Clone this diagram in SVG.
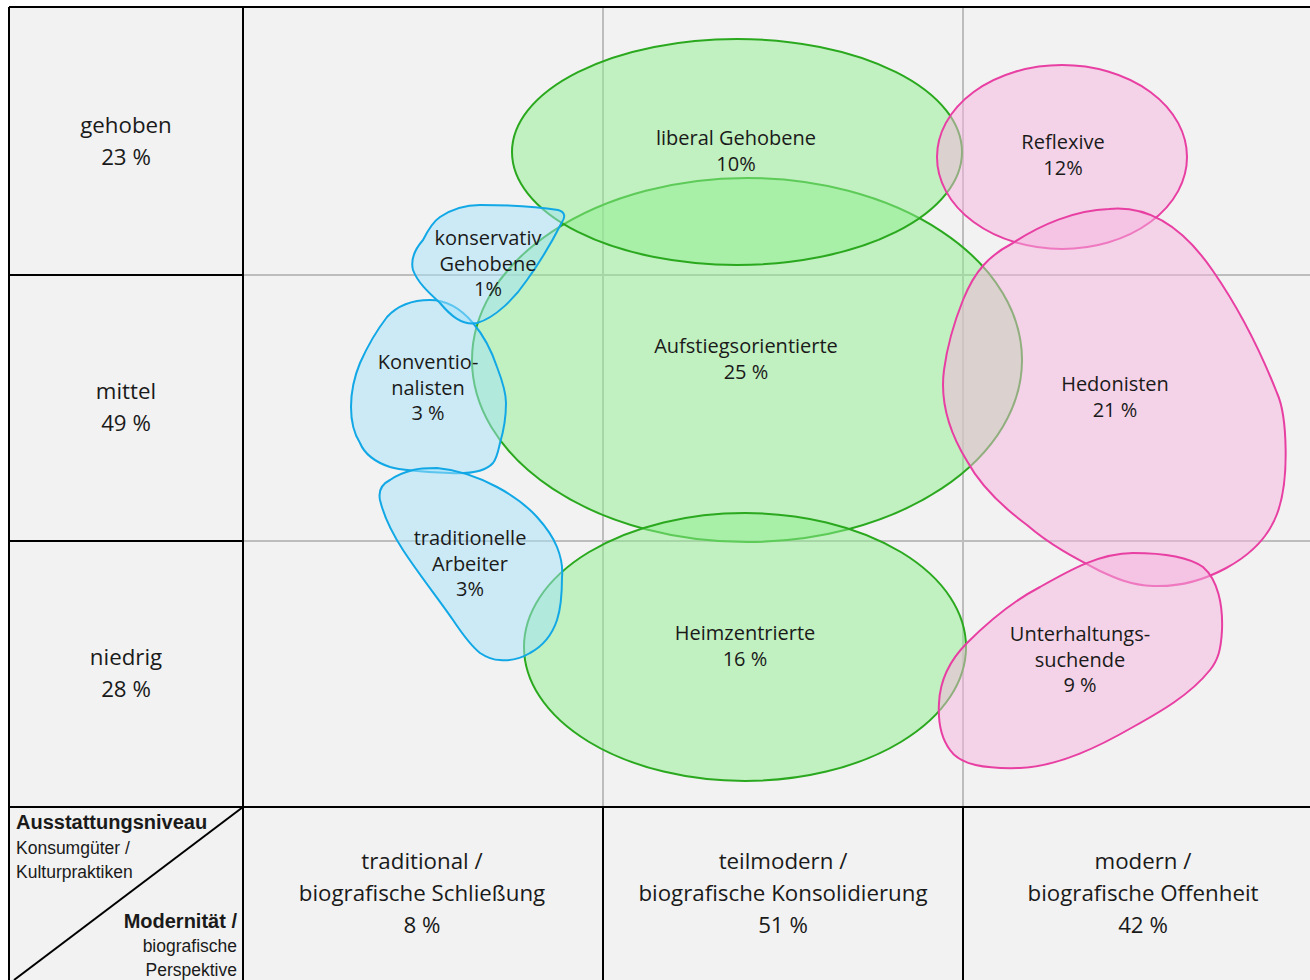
<svg xmlns="http://www.w3.org/2000/svg" width="1310" height="980" viewBox="0 0 1310 980">
<style>
.t{font-family:"Open Sans","Noto Sans",sans-serif;fill:#1a1a1a;text-anchor:middle}
.ax{font-size:22.3px}
.lb{font-size:20px}
.grid{stroke:#bdbdbd;stroke-width:2;fill:none}
.blk{stroke:#000;stroke-width:2;fill:none}
.g{fill:rgb(144,238,144);fill-opacity:0.5;stroke:#2aa81e;stroke-width:2}
.p{fill:rgb(246,180,222);fill-opacity:0.5;stroke:#e83fa3;stroke-width:2}
.b{fill:rgb(164,226,250);fill-opacity:0.5;stroke:#12a8e6;stroke-width:2}
.s{font-family:"Liberation Sans",Arial,sans-serif;fill:#1a1a1a}
.sb{font-size:20px;font-weight:bold}
.sr{font-size:17.5px}
</style>
<rect x="0" y="0" width="1310" height="980" fill="#ffffff"/>
<rect x="9" y="7" width="1301" height="973" fill="#f2f2f2"/>
<g id="grid">
<line class="grid" x1="243" y1="275" x2="1310" y2="275"/>
<line class="grid" x1="243" y1="541" x2="1310" y2="541"/>
<line class="grid" x1="603" y1="7" x2="603" y2="807"/>
<line class="grid" x1="963" y1="7" x2="963" y2="807"/>
<line class="blk" x1="9" y1="7" x2="1310" y2="7"/>
<line class="blk" x1="9" y1="7" x2="9" y2="980"/>
<line class="blk" x1="243" y1="7" x2="243" y2="980"/>
<line class="blk" x1="9" y1="275" x2="243" y2="275"/>
<line class="blk" x1="9" y1="541" x2="243" y2="541"/>
<line class="blk" x1="9" y1="807" x2="1310" y2="807"/>
<line class="blk" x1="603" y1="807" x2="603" y2="980"/>
<line class="blk" x1="963" y1="807" x2="963" y2="980"/>
<line class="blk" x1="243" y1="807" x2="14" y2="980"/>
</g>
<g id="row-labels">
<text class="t ax" x="126" y="133">gehoben</text>
<text class="t ax" x="126" y="165">23 %</text>
<text class="t ax" x="126" y="399">mittel</text>
<text class="t ax" x="126" y="431">49 %</text>
<text class="t ax" x="126" y="665">niedrig</text>
<text class="t ax" x="126" y="697">28 %</text>
</g>
<g id="col-labels">
<text class="t ax" x="422" y="869">traditional /</text>
<text class="t ax" x="422" y="901">biografische Schließung</text>
<text class="t ax" x="422" y="933">8 %</text>
<text class="t ax" x="783" y="869">teilmodern /</text>
<text class="t ax" x="783" y="901">biografische Konsolidierung</text>
<text class="t ax" x="783" y="933">51 %</text>
<text class="t ax" x="1143" y="869">modern /</text>
<text class="t ax" x="1143" y="901">biografische Offenheit</text>
<text class="t ax" x="1143" y="933">42 %</text>
</g>
<g id="corner">
<text class="s sb" x="16" y="829">Ausstattungsniveau</text>
<text class="s sr" x="16" y="854">Konsumgüter /</text>
<text class="s sr" x="16" y="878">Kulturpraktiken</text>
<text class="s sb" x="237" y="928" text-anchor="end">Modernität /</text>
<text class="s sr" x="237" y="952" text-anchor="end">biografische</text>
<text class="s sr" x="237" y="976" text-anchor="end">Perspektive</text>
</g>
<g id="aufstiegsorientierte">
<ellipse class="g" cx="747" cy="360" rx="275" ry="182"/>
<text class="t lb" x="746" y="353">Aufstiegsorientierte</text>
<text class="t lb" x="746" y="379">25 %</text>
</g>
<g id="liberal-gehobene">
<ellipse class="g" cx="737" cy="152" rx="225" ry="113"/>
<text class="t lb" x="736" y="145">liberal Gehobene</text>
<text class="t lb" x="736" y="171">10%</text>
</g>
<g id="heimzentrierte">
<ellipse class="g" cx="745" cy="647" rx="221" ry="134"/>
<text class="t lb" x="745" y="640">Heimzentrierte</text>
<text class="t lb" x="745" y="666">16 %</text>
</g>
<g id="reflexive">
<ellipse class="p" cx="1062" cy="157" rx="125" ry="92"/>
<text class="t lb" x="1063" y="149">Reflexive</text>
<text class="t lb" x="1063" y="175">12%</text>
</g>
<g id="hedonisten">
<path class="p" d="M1109,209 C1150,205 1185,230 1213,271 C1240,310 1262,355 1277,393 C1287,415 1290,480 1277,514 C1260,560 1200,588 1153,586 C1130,585 1115,578 1100,571 C1075,558 1050,545 1027,525 C1000,505 980,485 967,461 C948,430 940,400 944,370 C948,340 955,320 963,300 C975,270 990,255 1013,243 C1040,225 1075,210 1109,209 Z"/>
<text class="t lb" x="1115" y="391">Hedonisten</text>
<text class="t lb" x="1115" y="417">21 %</text>
</g>
<g id="unterhaltungssuchende">
<path class="p" d="M1133,553 C1165,553 1190,558 1203,567 C1218,580 1223,605 1222,630 C1221,650 1218,660 1210,670 C1190,695 1160,712 1133,727 C1100,746 1060,766 1020,768 C985,769 960,765 950,750 C941,738 938,720 939,703 C940,680 950,660 967,643 C990,620 1015,600 1040,587 C1070,570 1100,553 1133,553 Z"/>
<text class="t lb" x="1080" y="641">Unterhaltungs-</text>
<text class="t lb" x="1080" y="667">suchende</text>
<text class="t lb" x="1080" y="692">9 %</text>
</g>
<g id="konventionalisten">
<path class="b" d="M430,300 C448,300 462,310 473,323 C485,337 492,352 497,367 C502,380 506,392 506,403 C506,420 503,433 500,443 C498,452 497,458 493,463 C485,472 470,474 450,473 C425,472 400,470 390,467 C375,462 365,455 360,443 C353,432 351,420 351,407 C351,390 355,375 360,363 C368,345 377,330 387,317 C398,305 414,300 430,300 Z"/>
<text class="t lb" x="428" y="369">Konventio-</text>
<text class="t lb" x="428" y="395">nalisten</text>
<text class="t lb" x="428" y="420">3 %</text>
</g>
<g id="konservativ-gehobene">
<path class="b" d="M480,205 C510,205 540,207 558,210 C566,212 565,218 562,222 C553,240 540,262 527,280 C515,298 495,318 477,323 C462,326 450,315 440,303 C428,292 418,283 413,270 C410,258 416,248 423,240 C428,230 434,221 440,217 C452,209 466,205 480,205 Z"/>
<text class="t lb" x="488" y="245">konservativ</text>
<text class="t lb" x="488" y="271">Gehobene</text>
<text class="t lb" x="488" y="296">1%</text>
</g>
<g id="traditionelle-arbeiter">
<path class="b" d="M413,470 C420,468 428,468 437,468 C460,470 480,478 497,487 C512,495 527,506 537,517 C546,527 553,537 557,547 C561,557 563,567 562,577 C562,595 561,608 557,620 C552,635 543,646 530,653 C520,659 510,661 500,660 C493,660 486,657 480,653 C470,645 461,632 453,620 C437,597 418,573 403,550 C392,533 384,517 380,500 C378,490 382,484 390,480 C397,475 405,472 413,470 Z"/>
<text class="t lb" x="470" y="545">traditionelle</text>
<text class="t lb" x="470" y="571">Arbeiter</text>
<text class="t lb" x="470" y="596">3%</text>
</g>
</svg>
